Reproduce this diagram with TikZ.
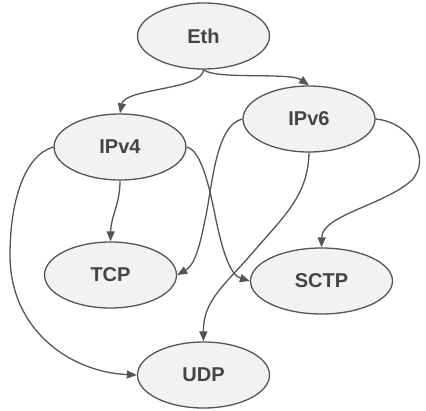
\documentclass[tikz,border=0pt]{standalone}
\usepackage{fontspec}
\setmainfont{Liberation Sans}
\usetikzlibrary{shapes.geometric,arrows.meta}
\definecolor{nodefill}{HTML}{F2F2F2}
\definecolor{edgecol}{HTML}{555555}
\definecolor{txtcol}{HTML}{444444}
\tikzset{
  proto/.style={ellipse, draw=edgecol, fill=nodefill, line width=1.3pt, minimum width=132pt, minimum height=66pt, inner sep=0pt, text=txtcol, font=\fontsize{20pt}{22pt}\selectfont\bfseries},
  link/.style={draw=edgecol, line width=1.3pt, -{Triangle[length=10pt,width=8pt]}}
}
\begin{document}
\begin{tikzpicture}[x=1pt,y=-1pt]
\useasboundingbox (0,0) rectangle (426,410);
\node[proto] (eth) at (203.5,36) {Eth};
\node[proto] (ipv4) at (120,147) {IPv4};
\node[proto] (ipv6) at (309,119) {IPv6};
\node[proto] (tcp) at (110.5,275) {TCP};
\node[proto, minimum width=142pt] (sctp) at (321.5,281) {SCTP};
\node[proto] (udp) at (203.5,375) {UDP};
\draw[link] (eth.south) .. controls (203,90) and (125,88) .. (ipv4.north);
\draw[link] (eth.south) .. controls (215,80) and (290,72) .. (ipv6.north);
\draw[link] (ipv4.south) .. controls (120,205) and (111,215) .. (tcp.north);
\draw[link] (ipv4.west) .. controls (25,155) and (10,200) .. (10,255) .. controls (10,330) and (70,372) .. (udp.west);
\draw[link] (ipv4.east) .. controls (200,150) and (208,180) .. (215,215) .. controls (222,250) and (230,275) .. (sctp.west);
\draw[link] (ipv6.west) .. controls (215,125) and (212,190) .. (205,220) .. controls (200,245) and (195,265) .. (tcp.east);
\draw[link] (ipv6.south) .. controls (308,195) and (285,215) .. (255,250) .. controls (225,285) and (203,300) .. (udp.north);
\draw[link] (ipv6.east) .. controls (410,122) and (432,158) .. (412,180) .. controls (385,205) and (322,215) .. (sctp.north);
\end{tikzpicture}
\end{document}
